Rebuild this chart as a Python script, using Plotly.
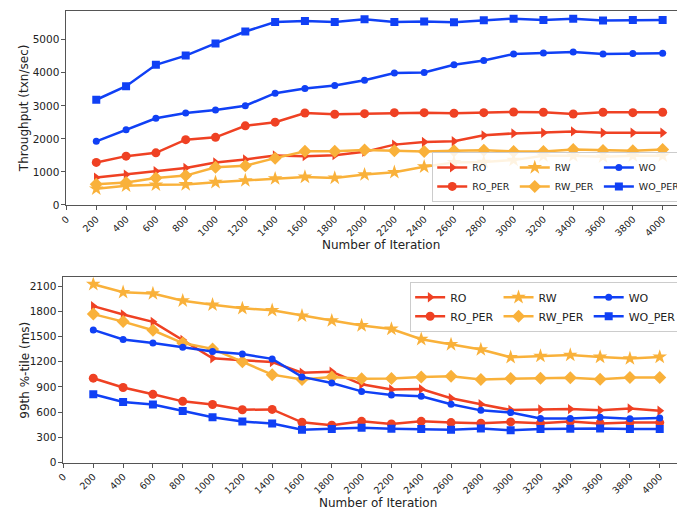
import plotly.graph_objects as go

iterations = [200, 400, 600, 800, 1000, 1200, 1400, 1600, 1800, 2000,
              2200, 2400, 2600, 2800, 3000, 3200, 3400, 3600, 3800, 4000]

# throughput (txn/sec)
tp_ro = [828, 918, 1018, 1118, 1287, 1377, 1497, 1477, 1507, 1607,
         1826, 1906, 1926, 2106, 2166, 2186, 2226, 2186, 2186, 2186]
tp_ro_per = [1287, 1477, 1577, 1976, 2046, 2395, 2505, 2784, 2745, 2764,
             2794, 2794, 2774, 2794, 2814, 2804, 2754, 2804, 2794, 2804]
tp_rw = [489, 579, 609, 619, 689, 739, 798, 848, 818, 918,
         988, 1158, 1287, 1297, 1357, 1487, 1487, 1457, 1487, 1487]
tp_rw_per = [629, 679, 818, 888, 1138, 1188, 1417, 1627, 1627, 1667,
             1637, 1617, 1637, 1657, 1617, 1617, 1677, 1647, 1637, 1677]
tp_wo = [1926, 2275, 2625, 2784, 2874, 3004, 3383, 3523, 3613, 3772,
         3992, 4012, 4242, 4371, 4571, 4601, 4631, 4571, 4581, 4591]
tp_wo_per = [3184, 3593, 4242, 4521, 4890, 5250, 5539, 5569, 5539, 5619,
             5539, 5549, 5529, 5589, 5639, 5599, 5639, 5579, 5599, 5599]

# 99th percentile latency (ms)
lat_ro = [1862, 1763, 1675, 1460, 1242, 1219, 1196, 1069, 1081, 931,
          870, 874, 766, 694, 625, 632, 636, 621, 644, 617]
lat_ro_per = [1004, 893, 812, 728, 690, 628, 632, 479, 445, 490,
              460, 490, 475, 467, 483, 467, 487, 464, 475, 475]
lat_rw = [2123, 2027, 2012, 1927, 1878, 1836, 1813, 1747, 1690, 1632,
          1590, 1468, 1406, 1345, 1253, 1268, 1280, 1257, 1238, 1257]
lat_rw_per = [1767, 1678, 1575, 1422, 1353, 1199, 1046, 989, 1019, 996,
              1000, 1019, 1027, 989, 1000, 1004, 1008, 992, 1012, 1012]
lat_wo = [1579, 1464, 1422, 1372, 1322, 1291, 1234, 1019, 947, 847,
          805, 789, 694, 621, 594, 525, 525, 540, 521, 529]
lat_wo_per = [812, 720, 690, 613, 540, 487, 464, 391, 399, 414,
              402, 399, 391, 406, 383, 399, 402, 406, 399, 399]

RED = "#ef4123"
ORANGE = "#f9b13a"
BLUE = "#1040f5"

series = [
    ("RO", tp_ro, lat_ro, RED, "triangle-right", 9),
    ("RO_PER", tp_ro_per, lat_ro_per, RED, "circle", 9),
    ("RW", tp_rw, lat_rw, ORANGE, "star", 11),
    ("RW_PER", tp_rw_per, lat_rw_per, ORANGE, "diamond", 10),
    ("WO", tp_wo, lat_wo, BLUE, "circle", 7),
    ("WO_PER", tp_wo_per, lat_wo_per, BLUE, "square", 8),
]

FONT = "DejaVu Sans"
fig = go.Figure()

for name, tp, lat, color, sym, size in series:
    grp = name.split("_")[0]
    fig.add_trace(go.Scatter(
        x=iterations, y=tp, name=name, mode="lines+markers",
        line=dict(color=color, width=2.5),
        marker=dict(symbol=sym, size=size, color=color),
        xaxis="x", yaxis="y", legend="legend", legendgroup="t" + grp))
    fig.add_trace(go.Scatter(
        x=iterations, y=lat, name=name, mode="lines+markers",
        line=dict(color=color, width=2.5),
        marker=dict(symbol=sym, size=size, color=color),
        xaxis="x2", yaxis="y2", legend="legend2", legendgroup="b" + grp))

axis_common = dict(showline=True, mirror=True, linecolor="#555555", linewidth=1,
                   ticks="outside", ticklen=4, tickcolor="#555555", showgrid=False,
                   zeroline=False)
xtick_font = dict(family=FONT, size=9.5, color="#222222")
ytick_font = dict(family=FONT, size=10.5, color="#222222")
xticks = list(range(0, 4001, 200))

# axis titles as annotations so they sit where the original has them
titles = [
    dict(text="Number of Iteration", x=0.54, y=0.530, textangle=0),
    dict(text="Number of Iteration", x=0.535, y=0.019, textangle=0),
    dict(text="Throughput (txn/sec)", x=0.0135, y=0.802, textangle=-90),
    dict(text="99th %-tile (ms)", x=0.0135, y=0.282, textangle=-90),
]
annotations = [dict(xref="paper", yref="paper", showarrow=False, xanchor="center",
                    yanchor="middle", font=dict(family=FONT, size=12, color="#222222"), **t)
               for t in titles]

fig.update_layout(
    width=685, height=511,
    margin=dict(l=0, r=0, t=0, b=0),
    paper_bgcolor="white", plot_bgcolor="white",
    font=dict(family=FONT, color="#222222"),
    xaxis=dict(domain=[0.0759, 0.997], range=[0, 4190], tickvals=xticks, tickangle=-45,
               anchor="y", tickfont=xtick_font, **axis_common),
    yaxis=dict(domain=[0.610, 0.9947], range=[0, 5880], tickvals=[0, 1000, 2000, 3000, 4000, 5000],
               anchor="x", tickfont=ytick_font, **axis_common),
    xaxis2=dict(domain=[0.0715, 0.9927], range=[0, 4190], tickvals=xticks, tickangle=-45,
                anchor="y2", tickfont=xtick_font, **axis_common),
    yaxis2=dict(domain=[0.1, 0.467], range=[0, 2207],
                tickvals=[0, 300, 600, 900, 1200, 1500, 1800, 2100],
                anchor="x2", tickfont=ytick_font, **axis_common),
    annotations=annotations,
    legend=dict(orientation="h", x=0.99, y=0.616, xanchor="right", yanchor="bottom",
                xref="paper", yref="paper", bgcolor="rgba(255,255,255,0.85)",
                bordercolor="#cccccc", borderwidth=1, tracegroupgap=2,
                font=dict(family=FONT, size=9.5), itemwidth=30),
    legend2=dict(orientation="h", x=0.984, y=0.458, xanchor="right", yanchor="top",
                 xref="paper", yref="paper", bgcolor="rgba(255,255,255,0.85)",
                 bordercolor="#cccccc", borderwidth=1, tracegroupgap=10,
                 font=dict(family=FONT, size=11), itemwidth=30),
)

fig.write_html("out.html")
